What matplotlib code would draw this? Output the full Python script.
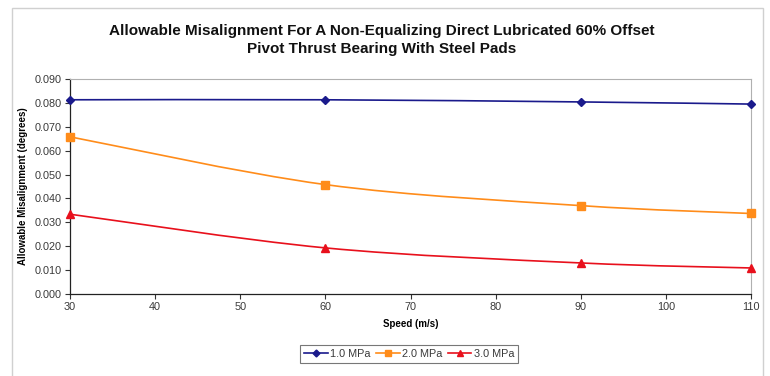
import numpy as np
import matplotlib.pyplot as plt
from matplotlib.path import Path
from matplotlib.patches import PathPatch, Rectangle
from matplotlib.lines import Line2D

plt.rcParams['font.family'] = ['Liberation Sans', 'DejaVu Sans']

# data
speed = [30, 60, 90, 110]
mpa_1 = [0.0813, 0.0813, 0.0804, 0.0795]
mpa_2 = [0.0658, 0.0458, 0.0370, 0.0337]
mpa_3 = [0.0334, 0.0193, 0.0130, 0.0109]
series_names = ['1.0 MPa', '2.0 MPa', '3.0 MPa']

colors = ['#1a1a8c', '#ff8c1a', '#e8101c']
markers = ['D', 's', '^']
msizes = [4.5, 5.5, 6]


def smooth_path(xs, ys):
    # Excel-style smoothed line: cubic bezier through the points
    pts = np.column_stack([xs, ys]).astype(float)
    n = len(pts)
    verts = [pts[0]]
    codes = [Path.MOVETO]
    for i in range(n - 1):
        p0 = pts[i - 1] if i > 0 else pts[i]
        p1 = pts[i]
        p2 = pts[i + 1]
        p3 = pts[i + 2] if i + 2 < n else pts[i + 1]
        c1 = p1 + (p2 - p0) / 6.0
        c2 = p2 - (p3 - p1) / 6.0
        verts += [c1, c2, p2]
        codes += [Path.CURVE4] * 3
    return Path(verts, codes)


fig = plt.figure(figsize=(7.7, 3.76), dpi=100)
fig.patch.set_facecolor('white')
# outer chart border (bottom edge falls outside the image)
fig.patches.append(Rectangle((12 / 770, -10 / 376), 751 / 770, 378 / 376,
                             transform=fig.transFigure, fill=False,
                             edgecolor='#d0d0d0', linewidth=1))

ax = fig.add_axes([70 / 770, 1 - 294 / 376, 681 / 770, 215 / 376])

handles = []
for vals, name, c, m, ms in zip([mpa_1, mpa_2, mpa_3], series_names, colors, markers, msizes):
    ax.add_patch(PathPatch(smooth_path(speed, vals), fill=False, edgecolor=c,
                           linewidth=1.2, clip_on=False))
    ax.plot(speed, vals, linestyle='none', marker=m, color=c, markersize=ms,
            clip_on=False, zorder=3)
    handles.append(Line2D([], [], color=c, marker=m, markersize=ms - 1,
                          linewidth=1.2, label=name))

ax.set_xlim(30, 110)
ax.set_ylim(0, 0.09)
ax.set_xticks(np.arange(30, 111, 10))
ax.set_yticks(np.arange(0, 0.0901, 0.01))
ax.set_yticklabels([f'{v:.3f}' for v in np.arange(0, 0.0901, 0.01)])
ax.tick_params(direction='out', length=3.5, width=0.8, labelsize=7.8,
               labelcolor='#3a3a3a', color='#333333', pad=2.5)
for side in ['top', 'right']:
    ax.spines[side].set_color('#b0b0b0')
    ax.spines[side].set_linewidth(0.8)
for side in ['left', 'bottom']:
    ax.spines[side].set_color('#222222')
    ax.spines[side].set_linewidth(0.9)

ax.set_xlabel('Speed (m/s)', fontsize=7, fontweight='bold', labelpad=5)
ax.set_ylabel('Allowable Misalignment (degrees)', fontsize=7, fontweight='bold', labelpad=5)

fig.text(382 / 770, 1 - 40 / 376,
         'Allowable Misalignment For A Non-Equalizing Direct Lubricated 60% Offset\n'
         'Pivot Thrust Bearing With Steel Pads',
         ha='center', va='center', fontsize=11, fontweight='bold',
         linespacing=1.35, color='#111111')

leg = fig.legend(handles=handles, loc='center', bbox_to_anchor=(409 / 770, 1 - 354 / 376),
                 ncol=3, fontsize=7.8, frameon=True, fancybox=False,
                 handlelength=2.2, handletextpad=0.2, columnspacing=0.5,
                 borderpad=0.35, edgecolor='#555555')
leg.get_frame().set_linewidth(0.8)
for t in leg.get_texts():
    t.set_color('#3a3a3a')

fig.savefig('out.png', dpi=100)
